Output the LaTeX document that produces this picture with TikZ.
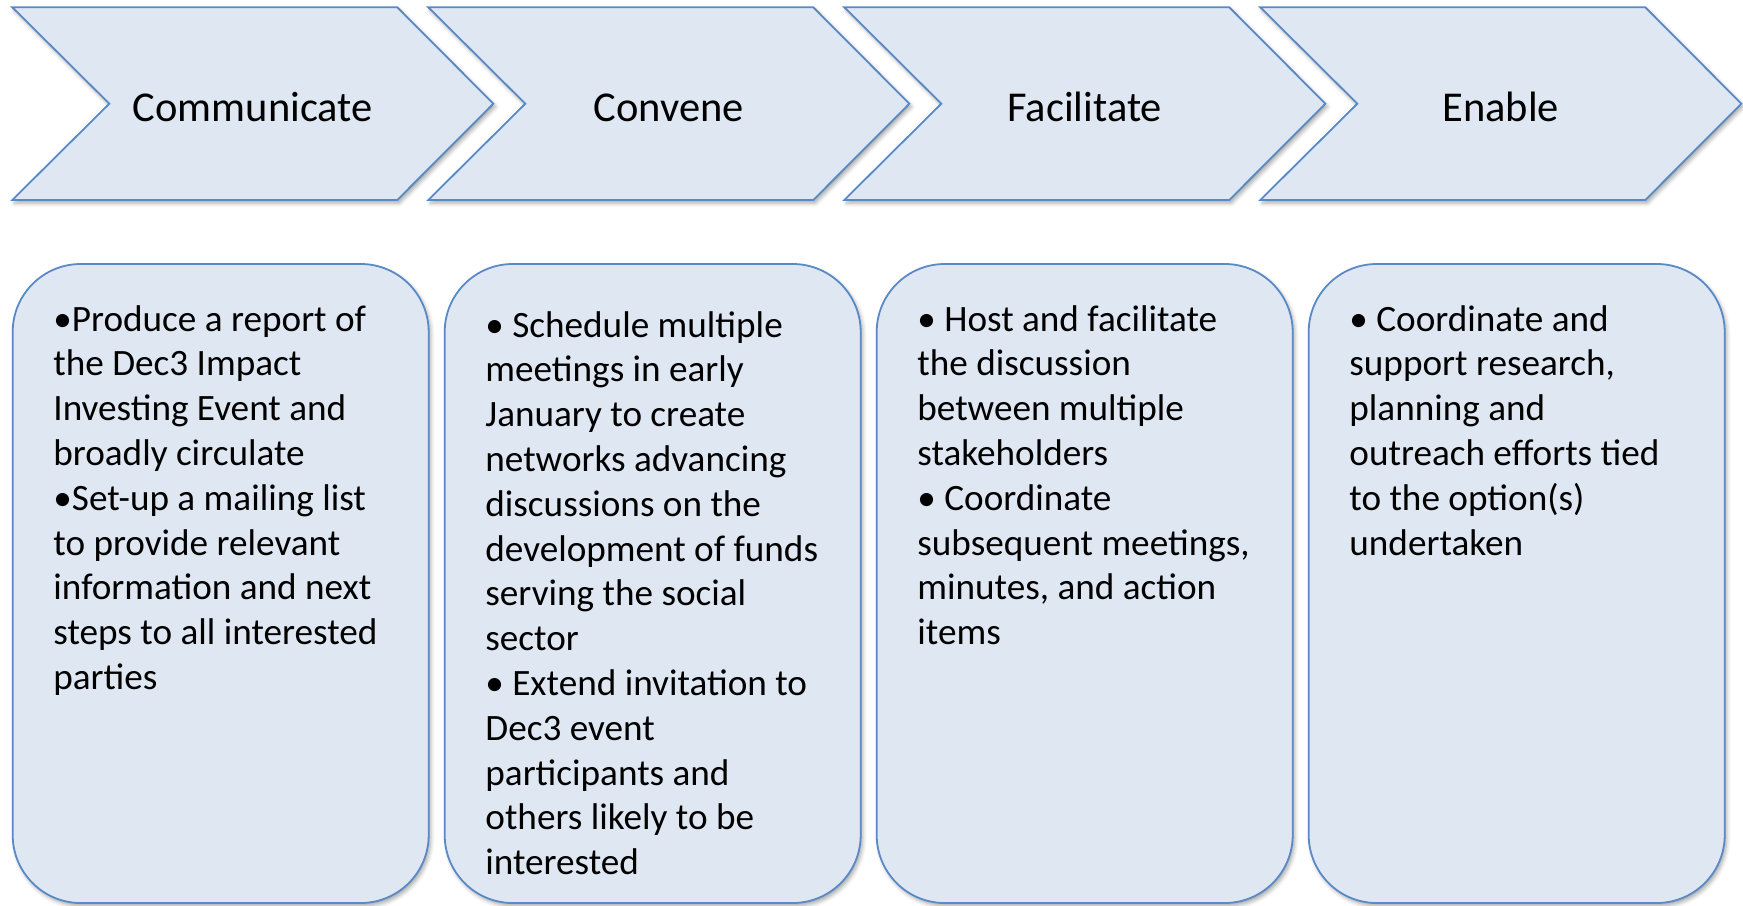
\documentclass[tikz,border=0pt]{standalone}
\usepackage{fontspec}
\setmainfont{Carlito}
\usetikzlibrary{shadows.blur}
\definecolor{panelfill}{HTML}{DFE7F2}
\definecolor{paneledge}{HTML}{5A8AC6}
\newcommand{\stagetext}[1]{\begin{tabular}[t]{@{}l@{}}#1\end{tabular}}
\begin{document}
\begin{tikzpicture}[x=1pt,y=-1pt,
  panel/.style={fill=panelfill, draw=paneledge, line width=1.8pt,
    blur shadow={shadow xshift=2pt, shadow yshift=-3pt,
      shadow blur radius=4pt, shadow opacity=35}},
  stagelabel/.style={font=\fontsize{42.5}{50}\selectfont, anchor=base, inner sep=0pt},
  bodytext/.style={font=\fontsize{37.2}{44.8}\selectfont, anchor=base west, inner sep=0pt}]
\useasboundingbox (0,0) rectangle (1743,905);

% chevron stages along the top
\foreach \i/\lab/\nm in {0/Communicate/s1, 1/Convene/s2, 2/Facilitate/s3, 3/Enable/s4}{
  \pgfmathsetmacro\x{12.3+416*\i}
  \path[panel, line join=miter] (\x,7.3) -- (\x+385,7.3) -- (\x+481,103.7) -- (\x+385,200)
    -- (\x,200) -- (\x+97,103.7) -- cycle;
  \node[stagelabel] (\nm) at (\x+240.5,121) {\lab};
}

% rounded panels below each stage
\foreach \i/\nm in {0/p1, 1/p2, 2/p3, 3/p4}{
  \pgfmathsetmacro\bx{12.7+432*\i}
  \path[panel, rounded corners=68pt] (\bx,264) rectangle (\bx+416,903);
  \coordinate (\nm) at (\bx+40.5,331);
}

\node[bodytext] (t1) at (p1) {\stagetext{%
•Produce a report of\\
the Dec3 Impact\\
Investing Event and\\
broadly circulate\\
•Set-up a mailing list\\
to provide relevant\\
information and next\\
steps to all interested\\
parties}};

\node[bodytext] (t2) at ([yshift=-6pt]p2) {\stagetext{%
• Schedule multiple\\
meetings in early\\
January to create\\
networks advancing\\
discussions on the\\
development of funds\\
serving the social\\
sector\\
• Extend invitation to\\
Dec3 event\\
participants and\\
others likely to be\\
interested}};

\node[bodytext] (t3) at (p3) {\stagetext{%
• Host and facilitate\\
the discussion\\
between multiple\\
stakeholders\\
• Coordinate\\
subsequent meetings,\\
minutes, and action\\
items}};

\node[bodytext] (t4) at (p4) {\stagetext{%
• Coordinate and\\
support research,\\
planning and\\
outreach efforts tied\\
to the option(s)\\
undertaken}};
\end{tikzpicture}
\end{document}
